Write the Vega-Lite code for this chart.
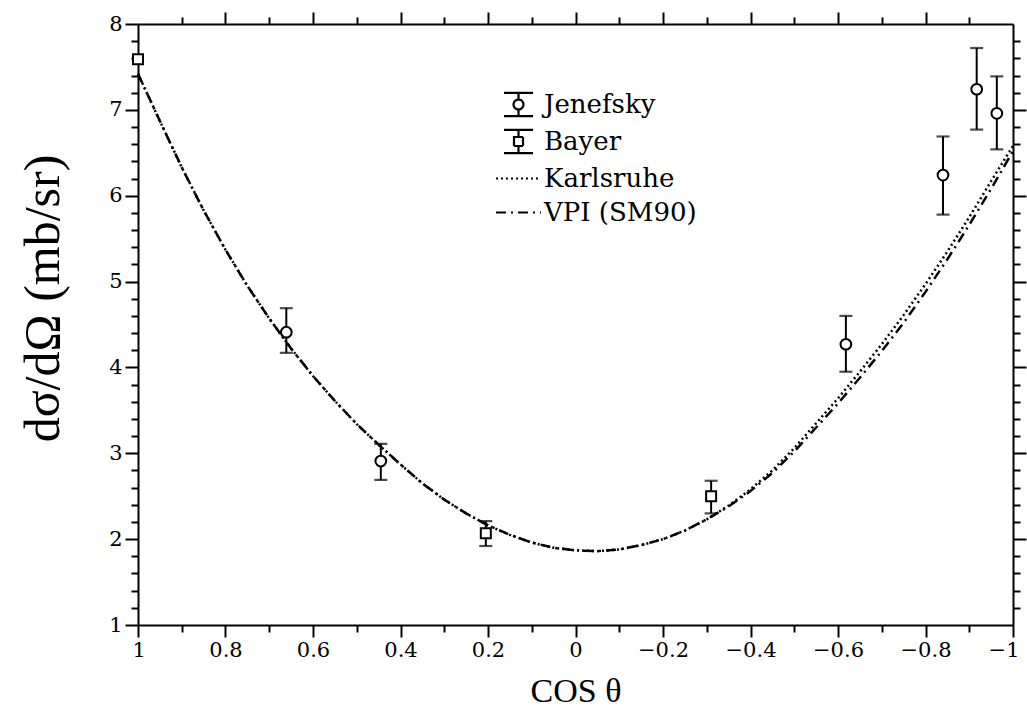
{
  "$schema": "https://vega.github.io/schema/vega-lite/v6.json",
  "width": 875,
  "height": 601,
  "autosize": {"type": "none"},
  "padding": {"left": 138, "top": 24, "right": 14, "bottom": 99},
  "background": "white",
  "config": {
    "view": {"stroke": null},
    "axis": {"grid": false, "domainColor": "black", "tickColor": "black", "labelColor": "black", "titleColor": "black", "domainWidth": 2, "tickWidth": 2, "labelFont": "DejaVu Serif", "labelFontSize": 21, "labelOverlap": false}
  },
  "datasets": {
    "curves": [
      {"series": "VPI (SM90)", "x": 1.0, "y": 7.42},
      {"series": "VPI (SM90)", "x": 0.95, "y": 6.87},
      {"series": "VPI (SM90)", "x": 0.9, "y": 6.33},
      {"series": "VPI (SM90)", "x": 0.85, "y": 5.83},
      {"series": "VPI (SM90)", "x": 0.8, "y": 5.37},
      {"series": "VPI (SM90)", "x": 0.75, "y": 4.95},
      {"series": "VPI (SM90)", "x": 0.7, "y": 4.57},
      {"series": "VPI (SM90)", "x": 0.65, "y": 4.22},
      {"series": "VPI (SM90)", "x": 0.6, "y": 3.9},
      {"series": "VPI (SM90)", "x": 0.55, "y": 3.61},
      {"series": "VPI (SM90)", "x": 0.5, "y": 3.34},
      {"series": "VPI (SM90)", "x": 0.45, "y": 3.1},
      {"series": "VPI (SM90)", "x": 0.4, "y": 2.87},
      {"series": "VPI (SM90)", "x": 0.35, "y": 2.65},
      {"series": "VPI (SM90)", "x": 0.3, "y": 2.46},
      {"series": "VPI (SM90)", "x": 0.25, "y": 2.3},
      {"series": "VPI (SM90)", "x": 0.2, "y": 2.16},
      {"series": "VPI (SM90)", "x": 0.15, "y": 2.05},
      {"series": "VPI (SM90)", "x": 0.1, "y": 1.96},
      {"series": "VPI (SM90)", "x": 0.05, "y": 1.9},
      {"series": "VPI (SM90)", "x": 0.0, "y": 1.87},
      {"series": "VPI (SM90)", "x": -0.05, "y": 1.86},
      {"series": "VPI (SM90)", "x": -0.1, "y": 1.88},
      {"series": "VPI (SM90)", "x": -0.15, "y": 1.93},
      {"series": "VPI (SM90)", "x": -0.2, "y": 2.0},
      {"series": "VPI (SM90)", "x": -0.25, "y": 2.1},
      {"series": "VPI (SM90)", "x": -0.3, "y": 2.23},
      {"series": "VPI (SM90)", "x": -0.35, "y": 2.38},
      {"series": "VPI (SM90)", "x": -0.4, "y": 2.56},
      {"series": "VPI (SM90)", "x": -0.45, "y": 2.77},
      {"series": "VPI (SM90)", "x": -0.5, "y": 3.02},
      {"series": "VPI (SM90)", "x": -0.55, "y": 3.3},
      {"series": "VPI (SM90)", "x": -0.6, "y": 3.58},
      {"series": "VPI (SM90)", "x": -0.65, "y": 3.88},
      {"series": "VPI (SM90)", "x": -0.7, "y": 4.19},
      {"series": "VPI (SM90)", "x": -0.75, "y": 4.52},
      {"series": "VPI (SM90)", "x": -0.8, "y": 4.88},
      {"series": "VPI (SM90)", "x": -0.85, "y": 5.26},
      {"series": "VPI (SM90)", "x": -0.9, "y": 5.66},
      {"series": "VPI (SM90)", "x": -0.95, "y": 6.08},
      {"series": "VPI (SM90)", "x": -1.0, "y": 6.52},
      {"series": "Karlsruhe", "x": 1.0, "y": 7.42},
      {"series": "Karlsruhe", "x": 0.95, "y": 6.87},
      {"series": "Karlsruhe", "x": 0.9, "y": 6.33},
      {"series": "Karlsruhe", "x": 0.85, "y": 5.83},
      {"series": "Karlsruhe", "x": 0.8, "y": 5.37},
      {"series": "Karlsruhe", "x": 0.75, "y": 4.95},
      {"series": "Karlsruhe", "x": 0.7, "y": 4.57},
      {"series": "Karlsruhe", "x": 0.65, "y": 4.22},
      {"series": "Karlsruhe", "x": 0.6, "y": 3.9},
      {"series": "Karlsruhe", "x": 0.55, "y": 3.61},
      {"series": "Karlsruhe", "x": 0.5, "y": 3.34},
      {"series": "Karlsruhe", "x": 0.45, "y": 3.1},
      {"series": "Karlsruhe", "x": 0.4, "y": 2.87},
      {"series": "Karlsruhe", "x": 0.35, "y": 2.65},
      {"series": "Karlsruhe", "x": 0.3, "y": 2.46},
      {"series": "Karlsruhe", "x": 0.25, "y": 2.3},
      {"series": "Karlsruhe", "x": 0.2, "y": 2.16},
      {"series": "Karlsruhe", "x": 0.15, "y": 2.05},
      {"series": "Karlsruhe", "x": 0.1, "y": 1.96},
      {"series": "Karlsruhe", "x": 0.05, "y": 1.9},
      {"series": "Karlsruhe", "x": 0.0, "y": 1.87},
      {"series": "Karlsruhe", "x": -0.05, "y": 1.86},
      {"series": "Karlsruhe", "x": -0.1, "y": 1.88},
      {"series": "Karlsruhe", "x": -0.15, "y": 1.93},
      {"series": "Karlsruhe", "x": -0.2, "y": 2.0},
      {"series": "Karlsruhe", "x": -0.25, "y": 2.1},
      {"series": "Karlsruhe", "x": -0.3, "y": 2.23},
      {"series": "Karlsruhe", "x": -0.35, "y": 2.39},
      {"series": "Karlsruhe", "x": -0.4, "y": 2.58},
      {"series": "Karlsruhe", "x": -0.45, "y": 2.8},
      {"series": "Karlsruhe", "x": -0.5, "y": 3.06},
      {"series": "Karlsruhe", "x": -0.55, "y": 3.35},
      {"series": "Karlsruhe", "x": -0.6, "y": 3.64},
      {"series": "Karlsruhe", "x": -0.65, "y": 3.95},
      {"series": "Karlsruhe", "x": -0.7, "y": 4.27},
      {"series": "Karlsruhe", "x": -0.75, "y": 4.61},
      {"series": "Karlsruhe", "x": -0.8, "y": 4.97},
      {"series": "Karlsruhe", "x": -0.85, "y": 5.35},
      {"series": "Karlsruhe", "x": -0.9, "y": 5.75},
      {"series": "Karlsruhe", "x": -0.95, "y": 6.17},
      {"series": "Karlsruhe", "x": -1.0, "y": 6.58}
    ],
    "points": [
      {"series": "Bayer", "x": 1.0, "y": 7.59, "lo": null, "hi": null},
      {"series": "Bayer", "x": 0.205, "y": 2.07, "lo": 1.92, "hi": 2.21},
      {"series": "Bayer", "x": -0.31, "y": 2.5, "lo": 2.3, "hi": 2.68},
      {"series": "Jenefsky", "x": 0.661, "y": 4.41, "lo": 4.17, "hi": 4.69},
      {"series": "Jenefsky", "x": 0.445, "y": 2.91, "lo": 2.69, "hi": 3.11},
      {"series": "Jenefsky", "x": -0.618, "y": 4.27, "lo": 3.95, "hi": 4.6},
      {"series": "Jenefsky", "x": -0.84, "y": 6.24, "lo": 5.78, "hi": 6.69},
      {"series": "Jenefsky", "x": -0.917, "y": 7.24, "lo": 6.77, "hi": 7.72},
      {"series": "Jenefsky", "x": -0.963, "y": 6.96, "lo": 6.54, "hi": 7.39}
    ]
  },
  "resolve": {"axis": {"x": "independent", "y": "independent"}},
  "layer": [
    {
      "data": {"name": "curves"},
      "mark": {"type": "line", "color": "black", "strokeWidth": 2.5},
      "encoding": {
        "x": {"field": "x", "type": "quantitative", "scale": {"domain": [-1, 1], "reverse": true, "nice": false, "zero": false},
          "axis": {"orient": "bottom", "values": [1, 0.8, 0.6, 0.4, 0.2, 0, -0.2, -0.4, -0.6, -0.8, -1], "format": ".1~f", "tickSize": 12, "labelPadding": 2, "labelFontSize": 21,
            "labelFlush": true, "labelFlushOffset": 6,
            "title": "COS θ", "titleFont": "Liberation Serif", "titleFontSize": 34, "titleFontWeight": "normal", "titlePadding": 14}},
        "y": {"field": "y", "type": "quantitative", "scale": {"domain": [1, 8], "nice": false, "zero": false},
          "axis": {"orient": "left", "values": [1, 2, 3, 4, 5, 6, 7, 8], "tickSize": 13, "labelPadding": 3, "labelFontSize": 21, "labelFlush": false,
            "title": "dσ/dΩ (mb/sr)", "titleFont": "Liberation Serif", "titleFontSize": 50, "titleFontWeight": "normal",
            "titleAngle": -90, "titleAlign": "center", "titleBaseline": "middle", "titleX": -95, "titleY": 274}},
        "strokeDash": {"field": "series", "type": "nominal",
          "scale": {"domain": ["Jenefsky", "Bayer", "Karlsruhe", "VPI (SM90)"], "range": [[1, 0], [1, 0], [2, 3], [10, 5, 2, 5]]},
          "legend": {"orient": "none", "legendX": 364, "legendY": 64, "title": null, "padding": 0, "rowPadding": 4, "symbolSize": 900, "symbolStrokeWidth": 2.2, "symbolStrokeColor": "black", "symbolFillColor": "transparent", "symbolOpacity": 1, "labelOffset": 9, "labelFont": "DejaVu Serif", "labelFontSize": 26, "labelColor": "black", "labelLimit": 400}}
      }
    },
    {
      "data": {"name": "points"},
      "mark": {"type": "rule", "color": "black", "strokeWidth": 2},
      "encoding": {
        "x": {"field": "x", "type": "quantitative", "scale": {"domain": [-1, 1], "reverse": true, "nice": false, "zero": false},
          "axis": {"orient": "bottom", "values": [0.9, 0.7, 0.5, 0.3, 0.1, -0.1, -0.3, -0.5, -0.7, -0.9], "tickSize": 7, "labels": false, "domain": false, "title": null}},
        "y": {"field": "lo", "type": "quantitative", "scale": {"domain": [1, 8], "nice": false, "zero": false},
          "axis": {"orient": "left", "values": [1.2, 1.4, 1.6, 1.8, 2.2, 2.4, 2.6, 2.8, 3.2, 3.4, 3.6, 3.8, 4.2, 4.4, 4.6, 4.8, 5.2, 5.4, 5.6, 5.8, 6.2, 6.4, 6.6, 6.8, 7.2, 7.4, 7.6, 7.8], "tickSize": 7, "labels": false, "domain": false, "title": null}},
        "y2": {"field": "hi"}
      }
    },
    {
      "data": {"name": "points"},
      "transform": [{"fold": ["lo", "hi"], "as": ["end", "yv"]}],
      "mark": {"type": "tick", "orient": "horizontal", "color": "black", "size": 13, "thickness": 2.2},
      "encoding": {
        "x": {"field": "x", "type": "quantitative", "scale": {"domain": [-1, 1], "reverse": true, "nice": false, "zero": false},
          "axis": {"orient": "top", "values": [0.8, 0.6, 0.4, 0.2, 0, -0.2, -0.4, -0.6, -0.8], "tickSize": 12, "labels": false, "title": null}},
        "y": {"field": "yv", "type": "quantitative", "scale": {"domain": [1, 8], "nice": false, "zero": false},
          "axis": {"orient": "right", "values": [2, 3, 4, 5, 6, 7], "tickSize": 13, "labels": false, "title": null}}
      }
    },
    {
      "data": {"name": "points"},
      "transform": [{"filter": "datum.series === 'Jenefsky'"}],
      "mark": {"type": "point", "shape": "circle", "filled": true, "fill": "white", "stroke": "black", "strokeWidth": 2, "size": 115, "opacity": 1},
      "encoding": {
        "x": {"field": "x", "type": "quantitative", "scale": {"domain": [-1, 1], "reverse": true, "nice": false, "zero": false},
          "axis": {"orient": "top", "values": [0.9, 0.7, 0.5, 0.3, 0.1, -0.1, -0.3, -0.5, -0.7, -0.9], "tickSize": 7, "labels": false, "domain": false, "title": null}},
        "y": {"field": "y", "type": "quantitative", "scale": {"domain": [1, 8], "nice": false, "zero": false},
          "axis": {"orient": "right", "values": [1.2, 1.4, 1.6, 1.8, 2.2, 2.4, 2.6, 2.8, 3.2, 3.4, 3.6, 3.8, 4.2, 4.4, 4.6, 4.8, 5.2, 5.4, 5.6, 5.8, 6.2, 6.4, 6.6, 6.8, 7.2, 7.4, 7.6, 7.8], "tickSize": 7, "labels": false, "domain": false, "title": null}}
      }
    },
    {
      "data": {"name": "points"},
      "transform": [{"filter": "datum.series === 'Bayer'"}],
      "mark": {"type": "point", "shape": "square", "filled": true, "fill": "white", "stroke": "black", "strokeWidth": 2, "size": 100, "opacity": 1},
      "encoding": {
        "x": {"field": "x", "type": "quantitative", "scale": {"domain": [-1, 1], "reverse": true, "nice": false, "zero": false}, "axis": null},
        "y": {"field": "y", "type": "quantitative", "scale": {"domain": [1, 8], "nice": false, "zero": false}, "axis": null}
      }
    },
    {
      "data": {"name": "points"},
      "mark": {"type": "point", "color": "black", "size": 0, "strokeWidth": 2.2, "opacity": 1},
      "encoding": {
        "x": {"field": "x", "type": "quantitative", "scale": {"domain": [-1, 1], "reverse": true, "nice": false, "zero": false}, "axis": null},
        "y": {"field": "y", "type": "quantitative", "scale": {"domain": [1, 8], "nice": false, "zero": false}, "axis": null},
        "strokeDash": {"field": "series", "type": "nominal",
          "scale": {"domain": ["Jenefsky", "Bayer", "Karlsruhe", "VPI (SM90)"], "range": [[1, 0], [1, 0], [2, 3], [10, 5, 2, 5]]},
          "legend": {"orient": "none", "legendX": 364, "legendY": 64, "title": null, "padding": 0, "rowPadding": 4, "symbolSize": 900, "symbolStrokeWidth": 2.2, "symbolStrokeColor": "black", "symbolFillColor": "transparent", "symbolOpacity": 1, "labelOffset": 9, "labelFont": "DejaVu Serif", "labelFontSize": 26, "labelColor": "black", "labelLimit": 400}},
        "shape": {"field": "series", "type": "nominal",
          "scale": {"domain": ["Jenefsky", "Bayer", "Karlsruhe", "VPI (SM90)"],
            "range": [
              "M-0.97,-0.77H0.97M0,-0.77V-0.33M0,0.33V0.77M-0.97,0.77H0.97M0.33,0A0.33,0.33 0 1,1 -0.33,0A0.33,0.33 0 1,1 0.33,0",
              "M-0.97,-0.77H0.97M0,-0.77V-0.3M0,0.3V0.77M-0.97,0.77H0.97M-0.3,-0.3H0.3V0.3H-0.3Z",
              "M-1.5,0H1.5",
              "M-1.5,0H1.5"]},
          "legend": {"orient": "none", "legendX": 364, "legendY": 64, "title": null, "padding": 0, "rowPadding": 4, "symbolSize": 900, "symbolStrokeWidth": 2.2, "symbolStrokeColor": "black", "symbolFillColor": "transparent", "symbolOpacity": 1, "labelOffset": 9, "labelFont": "DejaVu Serif", "labelFontSize": 26, "labelColor": "black", "labelLimit": 400}}
      }
    }
  ]
}
